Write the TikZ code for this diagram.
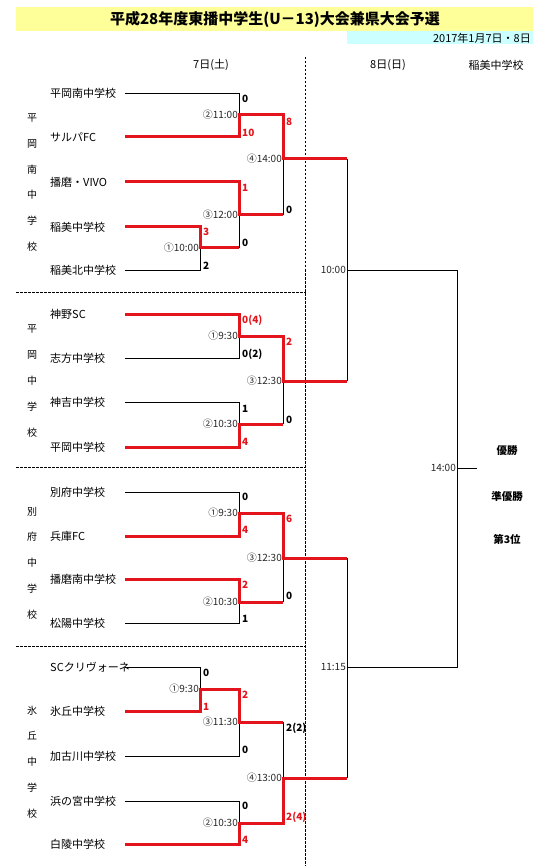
\documentclass[tikz,border=0pt]{standalone}
\usepackage{fontspec}
\setmainfont{Noto Sans CJK JP}
\definecolor{winred}{HTML}{E3141B}
\definecolor{titleyellow}{HTML}{FFFF99}
\definecolor{datecyan}{HTML}{CCFFFF}
\begin{document}
\begin{tikzpicture}[x=1pt,y=-1pt,
  team/.style={anchor=west,inner sep=0pt,font=\fontsize{11}{12}\selectfont},
  grp/.style={align=center,inner sep=0pt,font=\fontsize{10}{25.8}\selectfont},
  hdr/.style={inner sep=0pt,font=\fontsize{11}{12}\selectfont},
  score/.style={anchor=west,inner sep=0pt,font=\bfseries\fontsize{10}{11}\selectfont},
  rscore/.style={score,text=winred},
  mlabel/.style={anchor=east,inner sep=0pt,xshift=-1pt,font=\fontsize{10}{11}\selectfont,text=black!85},
  rank/.style={inner sep=0pt,font=\bfseries\fontsize{10.5}{12}\selectfont},
  bline/.style={line width=0.8pt,black},
  rline/.style={line width=3pt,winred,line join=miter},
  sep/.style={line width=0.6pt,dash pattern=on 2.5pt off 1.5pt}
]
\useasboundingbox (0,0) rectangle (536,866);
% title
\fill[titleyellow] (16,7) rectangle (533,31);
\fill[datecyan] (347,31) rectangle (533,44);
\node[font=\bfseries\fontsize{15}{17}\selectfont,inner sep=0pt] (title) at (275,19.5) {平成28年度東播中学生(U－13)大会兼県大会予選};
\node[anchor=east,inner sep=0pt,font=\fontsize{11}{12}\selectfont] (date) at (531,38) {2017年1月7日・8日};
% headers
\node[hdr] (h1) at (211,65) {7日(土)};
\node[hdr] (h2) at (388,65) {8日(日)};
\node[hdr] (h3) at (496,65) {稲美中学校};
% separators
\coordinate (vs) at (305.5,57);
\coordinate (ve) at (305.5,866);
\draw[sep] (vs) -- (ve);
\foreach \yy in {292,467,646} {\draw[sep] (16,\yy) -- (305.5,\yy);}
% group labels
\node[grp] (g1) at (32,182.5) {平\\岡\\南\\中\\学\\校};
\node[grp] (g2) at (32,381) {平\\岡\\中\\学\\校};
\node[grp] (g3) at (32,563) {別\\府\\中\\学\\校};
\node[grp] (g4) at (32,762) {氷\\丘\\中\\学\\校};
% teams
\node[team] (T1) at (50,93) {平岡南中学校};
\node[team] (T2) at (50,137) {サルパFC};
\node[team] (T3) at (50,182) {播磨・VIVO};
\node[team] (T4) at (50,227) {稲美中学校};
\node[team] (T5) at (50,270) {稲美北中学校};
\node[team] (T6) at (50,314) {神野SC};
\node[team] (T7) at (50,358) {志方中学校};
\node[team] (T8) at (50,402) {神吉中学校};
\node[team] (T9) at (50,447) {平岡中学校};
\node[team] (T10) at (50,492) {別府中学校};
\node[team] (T11) at (50,536) {兵庫FC};
\node[team] (T12) at (50,579) {播磨南中学校};
\node[team] (T13) at (50,623) {松陽中学校};
\node[team] (T14) at (50,667) {SCクリヴォーネ};
\node[team] (T15) at (50,711) {氷丘中学校};
\node[team] (T16) at (50,756) {加古川中学校};
\node[team] (T17) at (50,801) {浜の宮中学校};
\node[team] (T18) at (50,844) {白陵中学校};
% line starts
\foreach \n/\yy in {a1/93,a2/137,a3/182,a4/227,a5/270,b1/314,b2/358,b3/402,b4/447,c1/492,c2/536,c3/579,c4/623,d1/667,d2/711,d3/756,d4/801,d5/844}
  {\coordinate (\n) at (125,\yy);}
% block 1 junctions
\coordinate (m1t) at (200,227); \coordinate (m1b) at (200,270); \coordinate (m1) at (200,248);
\coordinate (m2t) at (239,93);  \coordinate (m2b) at (239,137); \coordinate (m2) at (239,115);
\coordinate (m3t) at (239,182); \coordinate (m3b) at (239,248); \coordinate (m3) at (239,215);
\coordinate (m4t) at (283,115); \coordinate (m4b) at (283,215); \coordinate (m4) at (283,159);
% block 2
\coordinate (n1t) at (239,314); \coordinate (n1b) at (239,358); \coordinate (n1) at (239,336);
\coordinate (n2t) at (239,402); \coordinate (n2b) at (239,447); \coordinate (n2) at (239,424);
\coordinate (n3t) at (283,336); \coordinate (n3b) at (283,424); \coordinate (n3) at (283,381);
% block 3
\coordinate (p1t) at (239,492); \coordinate (p1b) at (239,536); \coordinate (p1) at (239,513);
\coordinate (p2t) at (239,579); \coordinate (p2b) at (239,623); \coordinate (p2) at (239,602);
\coordinate (p3t) at (283,513); \coordinate (p3b) at (283,602); \coordinate (p3) at (283,558);
% block 4
\coordinate (q1t) at (200,667); \coordinate (q1b) at (200,711); \coordinate (q1) at (200,689);
\coordinate (q3t) at (239,689); \coordinate (q3b) at (239,756); \coordinate (q3) at (239,722);
\coordinate (q2t) at (239,801); \coordinate (q2b) at (239,844); \coordinate (q2) at (239,823);
\coordinate (q4t) at (283,722); \coordinate (q4b) at (283,823); \coordinate (q4) at (283,778);
% semis and final
\coordinate (s1t) at (347,159); \coordinate (s1b) at (347,381); \coordinate (s1) at (347,270);
\coordinate (s2t) at (347,558); \coordinate (s2b) at (347,778); \coordinate (s2) at (347,667);
\coordinate (ft) at (457,270); \coordinate (fb) at (457,667); \coordinate (f) at (457,468);
\coordinate (fe) at (477,468);
% black lines
\draw[bline] (a5) -- (m1b) -- (m1);
\draw[bline] (a1) -- (m2t) -- (m2);
\draw[bline] (m3b) -- (m3);
\draw[bline] (m4b) -- (m4);
\draw[bline] (b2) -- (n1b) -- (n1);
\draw[bline] (b3) -- (n2t) -- (n2);
\draw[bline] (n3b) -- (n3);
\draw[bline] (c1) -- (p1t) -- (p1);
\draw[bline] (c4) -- (p2b) -- (p2);
\draw[bline] (p3b) -- (p3);
\draw[bline] (d1) -- (q1t) -- (q1);
\draw[bline] (d3) -- (q3b) -- (q3);
\draw[bline] (d4) -- (q2t) -- (q2);
\draw[bline] (q4t) -- (q4);
\draw[bline] (s1t) -- (s1b);
\draw[bline] (s2t) -- (s2b);
\draw[bline] (s1) -- (ft) -- (fb) -- (s2);
\draw[bline] (f) -- (fe);
% red lines
\draw[rline] (a4) -- (m1t) -- (m1) -- (m3b);
\draw[rline] (a2) -- (m2b) -- (m2) -- (m4t) -- (m4) -- (s1t);
\draw[rline] (a3) -- (m3t) -- (m3) -- (m4b);
\draw[rline] (b1) -- (n1t) -- (n1) -- (n3t) -- (n3) -- (s1b);
\draw[rline] (b4) -- (n2b) -- (n2) -- (n3b);
\draw[rline] (c2) -- (p1b) -- (p1) -- (p3t) -- (p3) -- (s2t);
\draw[rline] (c3) -- (p2t) -- (p2) -- (p3b);
\draw[rline] (d2) -- (q1b) -- (q1) -- (q3t) -- (q3) -- (q4t);
\draw[rline] (d5) -- (q2b) -- (q2) -- (q4b) -- (q4) -- (s2b);
% match labels
\node[mlabel] (L1) at (m1) {①10:00};
\node[mlabel] (L2) at (m2) {②11:00};
\node[mlabel] (L3) at (m3) {③12:00};
\node[mlabel] (L4) at (m4) {④14:00};
\node[mlabel] (L5) at (n1) {①9:30};
\node[mlabel] (L6) at (n2) {②10:30};
\node[mlabel] (L7) at (n3) {③12:30};
\node[mlabel] (L8) at (p1) {①9:30};
\node[mlabel] (L9) at (p2) {②10:30};
\node[mlabel] (L10) at (p3) {③12:30};
\node[mlabel] (L11) at (q1) {①9:30};
\node[mlabel] (L12) at (q3) {③11:30};
\node[mlabel] (L13) at (q2) {②10:30};
\node[mlabel] (L14) at (q4) {④13:00};
\node[mlabel] (L15) at (s1) {10:00};
\node[mlabel] (L16) at (s2) {11:15};
\node[mlabel] (L17) at (f) {14:00};
% scores block 1
\node[score] (S1) at (242,99) {0};
\node[rscore] (S2) at (242,133) {10};
\node[rscore] (S3) at (203,232) {3};
\node[score] (S4) at (203,266) {2};
\node[rscore] (S5) at (242,188) {1};
\node[score] (S6) at (242,243) {0};
\node[rscore] (S7) at (286,122) {8};
\node[score] (S8) at (286,210) {0};
% block 2
\node[rscore] (S9) at (242,320) {0(4)};
\node[score] (S10) at (242,354) {0(2)};
\node[score] (S11) at (242,409) {1};
\node[rscore] (S12) at (242,442) {4};
\node[rscore] (S13) at (286,342) {2};
\node[score] (S14) at (286,420) {0};
% block 3
\node[score] (S15) at (242,497) {0};
\node[rscore] (S16) at (242,530) {4};
\node[rscore] (S17) at (242,585) {2};
\node[score] (S18) at (242,619) {1};
\node[rscore] (S19) at (286,519) {6};
\node[score] (S20) at (286,596) {0};
% block 4
\node[score] (S21) at (203,673) {0};
\node[rscore] (S22) at (203,707) {1};
\node[rscore] (S23) at (242,695) {2};
\node[score] (S24) at (242,750) {0};
\node[score] (S25) at (242,806) {0};
\node[rscore] (S26) at (242,840) {4};
\node[score] (S27) at (286,728) {2(2)};
\node[rscore] (S28) at (286,817) {2(4)};
% ranks
\node[rank] (R1) at (507,451) {優勝};
\node[rank] (R2) at (507,497) {準優勝};
\node[rank] (R3) at (507,539) {第3位};
\end{tikzpicture}
\end{document}
